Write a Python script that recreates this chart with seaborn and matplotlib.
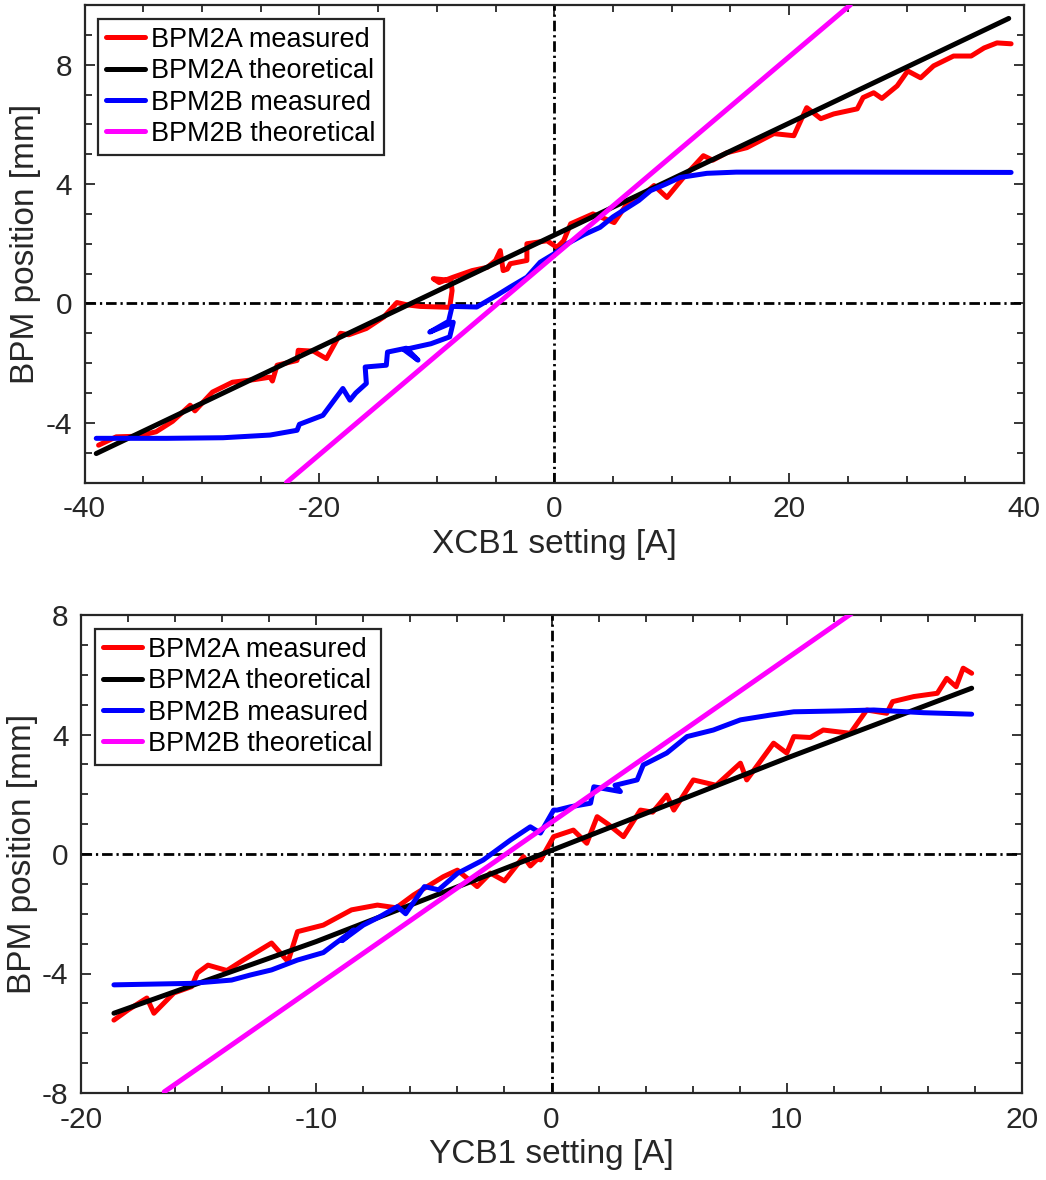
import numpy as np
import pandas as pd
import matplotlib
matplotlib.use("Agg")
import matplotlib.pyplot as plt
from matplotlib.ticker import MultipleLocator
import seaborn as sns

# ---------------- data ----------------
# Top panel: XCB1 scan
top_a_meas_x = [-38.8, -37.3, -35.5, -33.9, -32.5, -31.0, -30.6, -29.1, -27.4, -25.5, -24.2, -24.0,
                -23.6, -21.9, -21.8, -20.5, -19.4, -18.2, -17.5, -16.0, -14.5, -13.4, -12.5, -11.4,
                -8.9, -8.7, -8.8, -10.3, -9.8, -8.6, -7.0, -5.7, -5.0, -4.6, -4.35, -4.0, -3.75,
                -2.33, -2.33, -0.62, 0.23, 0.8, 1.4, 3.3, 5.1, 6.2, 7.3, 8.5, 9.6, 11.0, 12.7, 13.5,
                14.7, 16.4, 18.7, 20.4, 21.5, 22.7, 23.8, 25.8, 26.3, 27.2, 27.9, 29.2, 30.1, 31.2,
                32.3, 34.0, 35.5, 36.6, 37.7, 38.9]
top_a_meas_y = [-4.75, -4.47, -4.45, -4.3, -3.95, -3.41, -3.6, -2.97, -2.64, -2.55, -2.47, -2.6,
                -2.07, -1.91, -1.57, -1.6, -1.85, -1.0, -1.05, -0.84, -0.45, 0.03, -0.05, -0.1,
                -0.13, 0.43, 0.77, 0.83, 0.7, 0.88, 1.1, 1.21, 1.44, 1.77, 1.1, 1.15, 1.33,
                1.44, 2.0, 2.1, 1.88, 2.1, 2.67, 3.0, 2.71, 3.34, 3.55, 3.95, 3.55, 4.22, 4.95, 4.8,
                5.05, 5.22, 5.69, 5.62, 6.56, 6.19, 6.35, 6.52, 6.9, 7.06, 6.87, 7.29, 7.79, 7.56,
                7.96, 8.29, 8.29, 8.56, 8.73, 8.7]
top_a_theo_x = [-39.0, 38.7]
top_a_theo_y = [-5.03, 9.55]
top_b_meas_x = [-39.0, -33.0, -28.2, -24.2, -21.9, -21.7, -19.7, -18.0, -17.4, -16.9, -16.0, -16.1,
                -14.3, -14.2, -12.6, -11.6, -12.8, -10.5, -8.9, -8.6, -10.6, -9.0, -8.7, -6.6, -4.9,
                -3.75, -2.33, -1.2, -0.1, 0.77, 1.1, 2.5, 3.9, 5.0, 6.2, 7.2, 8.2, 9.5, 10.7, 13.0,
                15.5, 25.0, 38.9]
top_b_meas_y = [-4.52, -4.52, -4.5, -4.41, -4.25, -4.05, -3.75, -2.85, -3.24, -3.0, -2.68, -2.13,
                -2.07, -1.63, -1.5, -1.9, -1.55, -1.35, -1.12, -0.63, -0.96, -0.6, -0.1, -0.12, 0.27,
                0.55, 0.88, 1.38, 1.64, 1.88, 2.0, 2.3, 2.55, 2.9, 3.2, 3.45, 3.78, 4.0, 4.22, 4.36,
                4.4, 4.4, 4.39]
top_b_theo_x = [-22.8, 25.2]
top_b_theo_y = [-6.0, 10.0]

# Bottom panel: YCB1 scan
bot_a_meas_x = [-18.6, -18.0, -17.2, -16.9, -16.05, -15.3, -15.05, -14.6, -13.8, -13.1, -11.9, -11.2,
                -10.8, -9.7, -8.5, -7.4, -6.6, -5.86, -4.6, -4.0, -3.16, -2.6, -2.0, -1.19, -0.9,
                -0.33, -0.47, 0.09, 0.93, 1.5, 1.94, 2.4, 3.06, 3.78, 4.3, 4.9, 5.2, 6.03, 7.0, 8.03,
                8.3, 9.44, 10.0, 10.3, 11.0, 11.55, 12.7, 13.4, 14.25, 14.5, 15.4, 16.4, 16.8, 17.2,
                17.5, 17.86]
bot_a_meas_y = [-5.56, -5.22, -4.82, -5.33, -4.65, -4.44, -3.98, -3.72, -3.9, -3.55, -2.98, -3.6,
                -2.6, -2.38, -1.87, -1.71, -1.8, -1.37, -0.76, -0.54, -1.09, -0.64, -0.9, -0.09, -0.4,
                0.03, -0.2, 0.58, 0.8, 0.36, 1.25, 1.0, 0.58, 1.47, 1.4, 1.97, 1.47, 2.48, 2.3, 3.04,
                2.48, 3.71, 3.38, 3.93, 3.9, 4.15, 4.04, 4.82, 4.71, 5.1, 5.27, 5.38, 5.88, 5.6,
                6.22, 6.05]
bot_a_theo_x = [-18.6, -10.0, 0.0, 10.0, 17.86]
bot_a_theo_y = [-5.33, -2.93, 0.12, 3.21, 5.55]
bot_b_meas_x = [-18.6, -15.3, -13.6, -12.8, -11.9, -10.8, -9.7, -9.2, -8.4, -8.9, -8.0, -7.3, -6.55,
                -6.2, -5.4, -4.8, -4.0, -2.9, -1.74, -0.9, -0.47, 0.09, 0.24, 0.8, 1.66, 1.8, 2.93,
                2.7, 3.64, 3.9, 4.9, 5.76, 6.88, 8.03, 9.3, 10.3, 12.3, 13.7, 15.8, 17.86]
bot_b_meas_y = [-4.38, -4.33, -4.22, -4.05, -3.88, -3.55, -3.3, -3.0, -2.54, -2.9, -2.38, -2.1, -1.76,
                -2.0, -1.09, -1.2, -0.65, -0.2, 0.47, 0.91, 0.7, 1.47, 1.47, 1.58, 1.7, 2.25, 2.09,
                2.3, 2.48, 2.98, 3.38, 3.93, 4.15, 4.49, 4.65, 4.76, 4.79, 4.82, 4.73, 4.68]
bot_b_theo_x = [-16.46, 12.77]
bot_b_theo_y = [-7.96, 8.06]

labels = ["BPM2A measured", "BPM2A theoretical", "BPM2B measured", "BPM2B theoretical"]
colors = ["#ff0000", "#000000", "#0000ff", "#ff00ff"]

# ---------------- styling ----------------
sns.set_theme(style="white")
plt.rcParams["font.family"] = ["Liberation Sans", "DejaVu Sans"]
plt.rcParams["axes.unicode_minus"] = False
GRAY = "#262626"

fig = plt.figure(figsize=(10.46, 11.8), dpi=100)
ax1 = fig.add_axes([84.5 / 1046, 1 - 482.5 / 1180, (1024 - 84.5) / 1046, (482.5 - 5) / 1180])
ax2 = fig.add_axes([81 / 1046, 1 - 1093 / 1180, (1022 - 81) / 1046, (1093 - 615) / 1180])

panels = [
    (ax1, [(top_a_meas_x, top_a_meas_y), (top_a_theo_x, top_a_theo_y),
           (top_b_meas_x, top_b_meas_y), (top_b_theo_x, top_b_theo_y)],
     (-40, 40), (-6, 10), 20, 5, [-4, 0, 4, 8], 1, "XCB1 setting [A]"),
    (ax2, [(bot_a_meas_x, bot_a_meas_y), (bot_a_theo_x, bot_a_theo_y),
           (bot_b_meas_x, bot_b_meas_y), (bot_b_theo_x, bot_b_theo_y)],
     (-20, 20), (-8, 8), 10, 2, [-8, -4, 0, 4, 8], 1, "YCB1 setting [A]"),
]

dashdot = (0, (3.8, 1.4, 0.8, 1.4))

for ax, series, xlim, ylim, xmaj, xmin, yticks, ymin, xlabel in panels:
    ax.axvline(0, color="black", lw=2.0, ls=dashdot, zorder=1)
    ax.axhline(0, color="black", lw=2.0, ls=dashdot, zorder=1)
    for (xs, ys), lab, col in zip(series, labels, colors):
        df = pd.DataFrame({"x": xs, "y": ys})
        sns.lineplot(data=df, x="x", y="y", ax=ax, sort=False, estimator=None,
                     color=col, lw=3.6, label=lab, zorder=3)
    ax.set_xlim(*xlim)
    ax.set_ylim(*ylim)
    ax.xaxis.set_major_locator(MultipleLocator(xmaj))
    ax.xaxis.set_minor_locator(MultipleLocator(xmin))
    ax.set_yticks(yticks)
    ax.yaxis.set_minor_locator(MultipleLocator(ymin))
    ax.tick_params(which="both", direction="in", top=True, right=True, bottom=True, left=True,
                   color=GRAY, width=1.3, labelcolor=GRAY, labelsize=21.5)
    ax.tick_params(which="major", length=7.5, pad=9)
    ax.tick_params(which="minor", length=5)
    for sp in ax.spines.values():
        sp.set_color(GRAY)
        sp.set_linewidth(1.6)
        sp.set_visible(True)
    ax.set_xlabel(xlabel, fontsize=24, color=GRAY, labelpad=4)
    ax.set_ylabel("BPM position [mm]", fontsize=24, color=GRAY, labelpad=3)
    leg = ax.legend(loc="upper left", fontsize=19.5, frameon=True, fancybox=False,
                    framealpha=1, edgecolor=GRAY, borderpad=0.3, handlelength=1.45,
                    handletextpad=0.22, labelspacing=0.2, borderaxespad=0.5)
    leg.get_frame().set_linewidth(1.6)
    for line in leg.get_lines():
        line.set_linewidth(3.6)
    for t in leg.get_texts():
        t.set_color("black")
    ax.set_facecolor("white")

fig.savefig("out.png", dpi=100, facecolor="white")
